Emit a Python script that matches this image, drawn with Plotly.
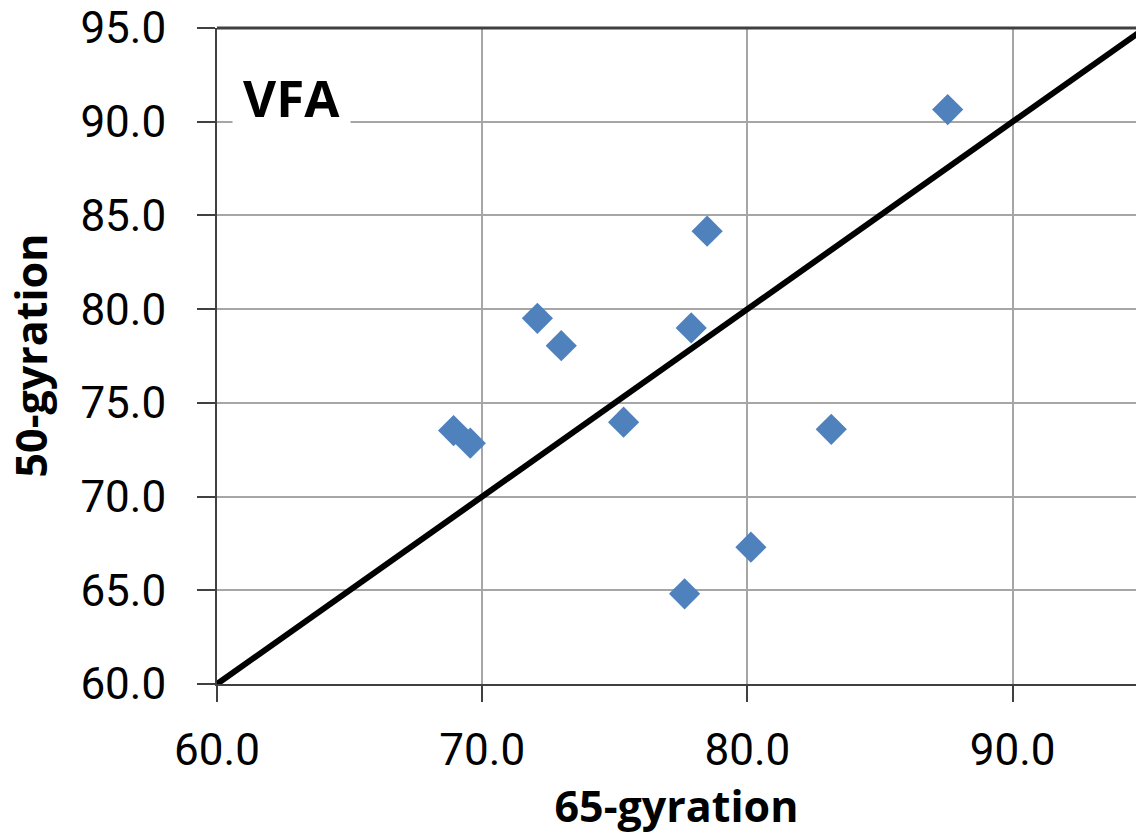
import plotly.graph_objects as go

# Data
gyr65 = [72.08, 72.98, 77.88, 68.92, 69.55, 75.33, 83.16, 80.13, 77.63, 78.48, 87.55]
gyr50 = [79.51, 78.05, 79.00, 73.52, 72.85, 73.97, 73.59, 67.30, 64.81, 84.16, 90.65]
line_x = [60, 95]
line_y = [60, 95]
tick_vals_x = [60, 70, 80, 90]
tick_vals_y = [60, 65, 70, 75, 80, 85, 90, 95]
title_x = "65-gyration"
title_y = "50-gyration"
label = "VFA"

FONT = "Open Sans"
TICK_FONT = "Roboto"
Y_MIN, Y_MAX = 60, 95
X_MIN, X_MAX = 60, 94.65

fig = go.Figure()
fig.add_trace(go.Scatter(
    x=gyr65, y=gyr50, mode="markers",
    marker=dict(symbol="diamond", size=24, color="#4F81BD", line=dict(width=0)),
    showlegend=False,
))
fig.add_trace(go.Scatter(
    x=line_x, y=line_y, mode="lines",
    line=dict(color="black", width=6),
    showlegend=False,
))

fig.update_layout(
    width=1136, height=839,
    margin=dict(l=217, r=0, t=28, b=155),
    paper_bgcolor="white", plot_bgcolor="white",
    font=dict(family=FONT, color="black"),
    xaxis=dict(
        range=[X_MIN, X_MAX], tickvals=tick_vals_x, tickformat=".1f",
        showgrid=True, gridcolor="#a6a6a6", gridwidth=2,
        showline=True, linecolor="#404040", linewidth=2,
        ticks="outside", ticklen=16, tickwidth=2, tickcolor="#404040",
        tickfont=dict(size=44, family=TICK_FONT), ticklabelstandoff=10,
        title=dict(text="<b>" + title_x + "</b>", font=dict(size=43, family=FONT), standoff=14),
        zeroline=False, automargin=False,
    ),
    yaxis=dict(
        range=[Y_MIN, Y_MAX], tickvals=tick_vals_y, tickformat=".1f",
        showgrid=True, gridcolor="#a6a6a6", gridwidth=2,
        showline=True, linecolor="#404040", linewidth=2,
        ticks="outside", ticklen=18, tickwidth=2, tickcolor="#404040",
        tickfont=dict(size=44, family=TICK_FONT), ticklabelstandoff=22,
        ticklabeloverflow="allow",
        zeroline=False, automargin=False,
    ),
)

# top border
fig.add_shape(type="line", xref="paper", yref="paper", x0=0, x1=1, y0=1, y1=1,
              line=dict(color="#404040", width=3), layer="above")

# y-axis title
fig.add_annotation(
    x=-0.204, y=77.5, xref="paper", yref="y", xanchor="center", yanchor="middle",
    text="<b>" + title_y + "</b>",
    textangle=-90, showarrow=False, font=dict(size=43, family=FONT, color="black"),
)

fig.add_annotation(
    x=62.79, y=91.32, xref="x", yref="y", text="<b>" + label + "</b>",
    showarrow=False, font=dict(size=51, family=FONT, color="black"),
    bgcolor="white", borderpad=10,
)

fig.write_html("out.html")
